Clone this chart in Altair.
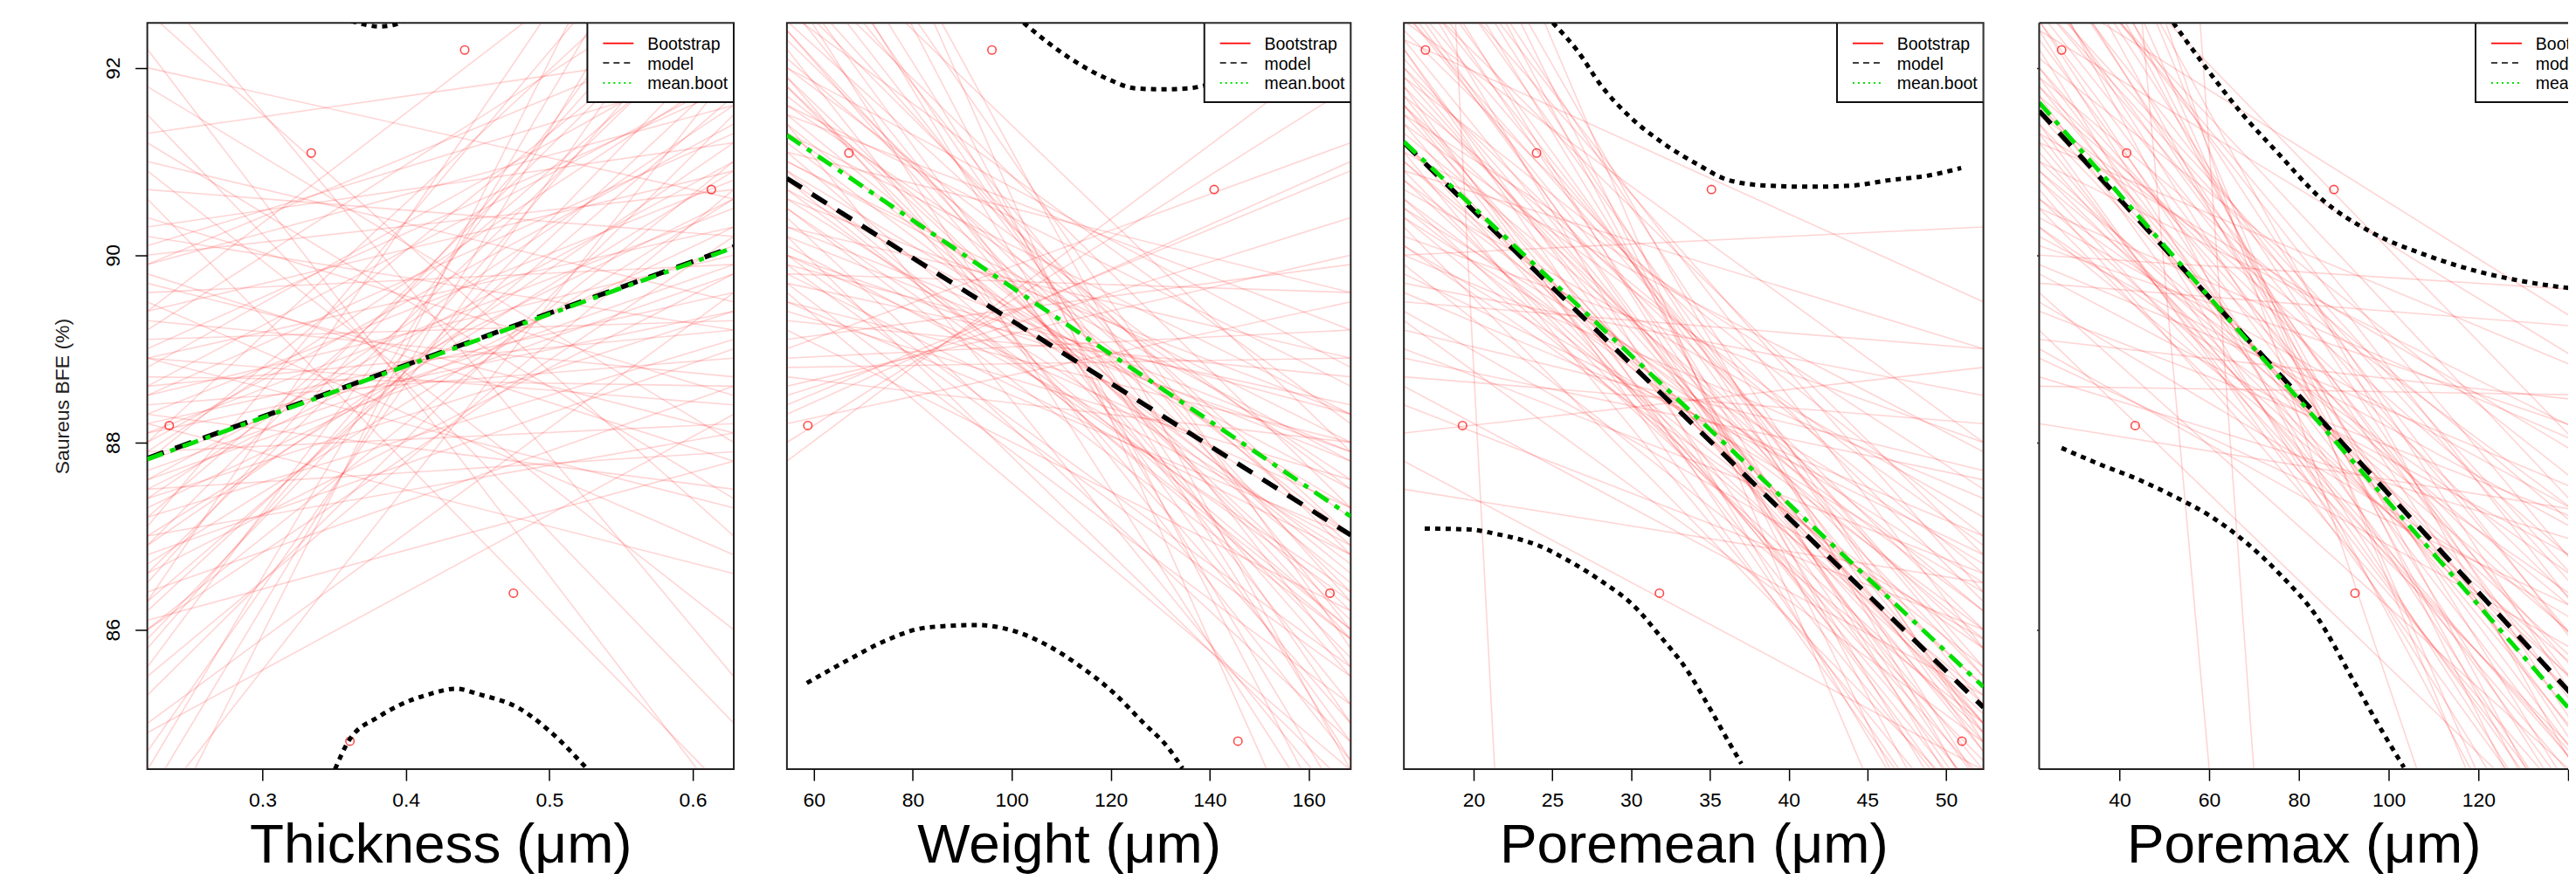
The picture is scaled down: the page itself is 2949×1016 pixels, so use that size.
import altair as alt
import pandas as pd

FONT = "Liberation Sans"

# ---------------- data ----------------
Y_DOMAIN = [84.51, 92.48]
Y_TICKS = [86, 88, 90, 92]
OBS_Y = [88.18, 91.09, 92.19, 84.81, 86.39, 90.70]

# Panel 1 : Thickness
thick_title = "Thickness (\u03bcm)"
thick_dom = [0.2197, 0.6286]
thick_ticks = [0.3, 0.4, 0.5, 0.6]
thick_obs_x = [0.235, 0.334, 0.441, 0.361, 0.475, 0.613]
thick_model = [87.83, 90.09]
thick_mean = [87.82, 90.08]
thick_boot_left = [87.8, 87.5, 88.2, 86.9, 88.6, 87.0, 89.3, 86.2, 88.0, 87.4, 88.9, 86.5, 89.8, 85.6, 90.4,
                   87.2, 88.4, 89.0, 86.0, 90.9, 84.5, 91.5, 88.1, 87.6, 89.6, 86.8, 88.8, 85.3, 92.2, 83.5,
                   87.9, 90.0, 86.4, 89.2, 88.3, 87.1, 91.0, 85.0, 88.6, 86.6, 93.0, 84.0, 89.5, 87.7, 88.0,
                   90.3, 86.1, 91.8, 85.8, 88.5, 87.3, 89.9, 92.0, 84.9, 90.6, 86.3, 88.9, 87.0, 91.3, 86.7,
                   88.3, 87.6, 89.1, 86.3, 87.9, 88.7, 85.9, 89.4, 87.2, 90.2, 86.9, 88.5, 84.7, 89.7, 87.4,
                   91.2, 86.0, 88.1, 90.7, 87.8, 85.5, 89.9, 88.9, 86.6, 92.6, 84.2, 90.1, 87.5, 89.4, 88.2]
thick_boot_right = [90.1, 90.6, 89.6, 91.2, 89.2, 90.9, 88.7, 92.0, 91.4, 89.4, 90.3, 93.5, 87.8, 94.0, 88.5,
                    92.6, 88.9, 91.8, 90.2, 86.0, 95.0, 85.0, 90.5, 91.0, 89.9, 89.0, 92.3, 91.5, 84.0, 96.0,
                    88.2, 90.7, 88.6, 93.2, 87.5, 94.5, 89.5, 89.6, 91.9, 92.7, 85.5, 92.0, 86.8, 89.9, 93.8,
                    91.2, 87.8, 88.0, 93.0, 90.0, 90.3, 92.5, 90.6, 88.3, 84.2, 95.5, 88.4, 88.1, 92.2, 90.6,
                    90.8, 89.8, 89.3, 91.7, 92.0, 88.6, 92.4, 90.9, 89.1, 89.2, 93.1, 91.3, 93.6, 88.1, 91.6,
                    87.4, 91.0, 89.4, 90.2, 92.9, 90.7, 91.6, 87.3, 89.8, 87.0, 94.6, 92.0, 87.9, 94.2, 86.6]
thick_upper_x = [0.362, 0.372, 0.381, 0.392, 0.398]
thick_upper_y = [92.50, 92.46, 92.44, 92.46, 92.50]
thick_lower_x = [0.3506, 0.360, 0.381, 0.395, 0.416, 0.435, 0.451, 0.479, 0.500, 0.526]
thick_lower_y = [84.51, 84.81, 85.07, 85.19, 85.31, 85.37, 85.31, 85.16, 84.92, 84.52]

# Panel 2 : Weight
weight_title = "Weight (\u03bcm)"
weight_dom = [54.57, 168.5]
weight_ticks = [60, 80, 100, 120, 140, 160]
weight_obs_x = [58.8, 67.1, 96.0, 145.7, 164.3, 140.9]
weight_model = [90.82, 87.01]
weight_mean = [91.28, 87.21]
weight_boot_left = [90.8, 91.3, 90.2, 91.8, 89.9, 92.4, 90.5, 91.0, 89.5, 92.0, 93.0, 90.0, 91.6, 89.2, 94.0,
                    90.9, 88.8, 92.8, 91.2, 89.6, 93.5, 90.3, 88.5, 91.9, 90.7, 92.6, 89.0, 95.0, 91.4, 90.1,
                    88.2, 92.2, 89.8, 91.7, 93.8, 90.6, 88.0, 92.9, 89.4, 91.1, 96.0, 90.4, 88.7, 92.3, 91.5,
                    87.8, 90.0, 94.5, 89.7, 91.0, 89.1, 92.7, 90.8, 93.2, 88.4, 91.4,
                    90.9, 91.5, 90.3, 92.1, 89.7, 91.8, 90.6, 93.3, 89.3, 92.5, 90.0, 91.3, 88.9, 94.2, 90.5,
                    92.0, 89.8, 91.6, 93.0, 88.6, 90.2, 92.4, 91.1, 89.5, 95.5, 90.7, 88.3, 91.9, 93.7, 89.9]
weight_boot_right = [87.0, 87.2, 87.8, 86.2, 88.3, 85.5, 86.4, 88.0, 87.0, 87.5, 84.8, 85.6, 88.6, 86.2, 84.0,
                     85.9, 88.9, 86.8, 86.7, 84.5, 86.0, 88.9, 90.4, 85.0, 87.5, 88.2, 91.2, 83.5, 84.0, 86.9,
                     89.5, 84.6, 89.6, 87.0, 85.0, 88.3, 91.8, 83.5, 87.6, 86.0, 82.5, 84.8, 88.0, 86.4, 89.2,
                     92.3, 87.3, 85.8, 85.2, 87.8, 89.9, 85.2, 86.0, 87.3, 90.9, 86.5,
                     87.3, 86.6, 87.9, 86.9, 88.4, 85.7, 86.8, 85.6, 88.7, 87.0, 87.9, 88.3, 89.2, 84.6, 85.9,
                     88.8, 86.8, 87.6, 86.3, 90.0, 84.3, 85.9, 89.6, 88.0, 84.5, 86.3, 91.0, 86.1, 87.9, 85.5]
weight_upper_x = [102.4, 107.3, 112.1, 119.4, 125.1, 130.4, 135.7, 139.7, 145.0]
weight_upper_y = [92.48, 92.27, 92.09, 91.88, 91.78, 91.77, 91.78, 91.82, 91.90]
weight_lower_x = [58.6, 66.7, 74.8, 81.3, 87.0, 93.0, 100.8, 107.3, 113.8, 120.3, 126.7, 131.6, 134.5]
weight_lower_y = [85.43, 85.67, 85.89, 86.01, 86.04, 86.05, 85.98, 85.83, 85.61, 85.34, 85.00, 84.74, 84.52]

# Panel 3 : Poremean
pmean_title = "Poremean (\u03bcm)"
pmean_dom = [15.58, 52.36]
pmean_ticks = [20, 25, 30, 35, 40, 45, 50]
pmean_obs_x = [19.3, 24.0, 16.95, 51.0, 31.8, 35.1]
pmean_model = [91.20, 85.17]
pmean_mean = [91.21, 85.39]
pmean_boot_left = [91.2, 91.2, 92.0, 90.6, 92.8, 91.6, 90.1, 93.5, 91.9, 90.9, 92.4, 89.6, 94.0, 91.0, 92.2,
                   90.4, 93.0, 89.2, 91.4, 92.6, 90.7, 95.0, 91.7, 89.9, 92.1, 88.7, 93.3, 90.3, 91.3, 94.5,
                   92.9, 88.4, 91.1, 89.5, 90.0, 88.1, 92.5, 93.8, 87.8, 91.5, 96.0, 90.5, 89.0, 92.3, 91.8,
                   90.2, 93.1, 87.5, 91.9, 89.3, 92.7, 90.8, 94.2, 91.6, 103.0,
                   91.0, 91.5, 90.8, 92.3, 90.5, 93.2, 91.8, 89.8, 92.6, 91.2, 90.0, 93.9, 91.4, 89.4, 92.0,
                   90.6, 94.8, 91.7, 88.9, 92.8, 90.4, 93.6, 91.1, 89.7, 92.2, 90.9, 88.6, 93.4, 91.6, 90.1]
pmean_boot_right = [85.2, 85.4, 84.5, 86.0, 84.0, 85.8, 86.4, 83.5, 85.0, 84.6, 86.3, 87.0, 84.3, 85.9, 83.8,
                    85.3, 85.2, 87.7, 84.2, 85.6, 87.2, 82.5, 86.6, 85.0, 84.9, 88.2, 84.7, 84.0, 86.2, 83.0,
                    86.8, 86.0, 83.6, 89.0, 90.3, 88.8, 88.0, 85.8, 84.5, 87.5, 81.5, 85.6, 86.6, 89.5, 83.2,
                    88.0, 82.8, 86.5, 87.0, 84.8, 84.3, 85.1, 84.8, 84.8, -15.0,
                    85.4, 85.0, 86.2, 84.7, 86.7, 84.1, 85.5, 86.8, 85.0, 84.4, 87.4, 83.8, 86.9, 85.9, 86.0,
                    84.9, 84.0, 84.0, 87.6, 85.5, 86.5, 84.9, 87.9, 88.5, 83.2, 89.0, 85.3, 86.4, 83.8, 85.8]
pmean_upper_x = [25.03, 26.6, 28.1, 29.9, 31.9, 34.2, 36.2, 38.8, 41.3, 43.9, 46.4, 48.9, 50.95]
pmean_upper_y = [92.48, 92.18, 91.81, 91.48, 91.21, 90.97, 90.80, 90.74, 90.73, 90.74, 90.80, 90.85, 90.93]
pmean_lower_x = [16.9, 19.75, 21.5, 24.1, 26.1, 28.1, 30.2, 31.9, 33.5, 35.0, 36.2, 37.0]
pmean_lower_y = [87.08, 87.07, 87.02, 86.90, 86.73, 86.52, 86.25, 85.92, 85.58, 85.16, 84.80, 84.57]

# Panel 4 : Poremax (cut off by the right edge of the picture)
pmax_title = "Poremax (\u03bcm)"
pmax_full = [22.1, 152.0]      # full x range of the original panel
pmax_dom = [22.1, 140.0]       # part that is visible
pmax_ticks = [40, 60, 80, 100, 120, 140]
pmax_obs_x = [43.5, 41.6, 27.1, 147.0, 92.5, 87.8]
pmax_model = [91.54, 84.72]
pmax_mean = [91.63, 84.51]
pmax_boot_left = [91.5, 91.6, 92.3, 90.8, 93.0, 92.0, 90.3, 93.8, 91.2, 92.6, 89.8, 94.5, 91.9, 90.5, 93.3,
                  89.4, 92.8, 91.0, 95.0, 90.1, 92.1, 89.0, 93.6, 91.4, 88.6, 92.4, 90.7, 94.0, 91.7, 89.6,
                  93.1, 92.9, 90.0, 88.2, 91.3, 96.5, 92.2, 90.9, 89.2, 93.4, 91.8, 90.4, 94.8, 92.5, 88.9,
                  91.1, 93.9, 90.6, 92.7, 91.5, 104.7, 116.4,
                  91.4, 91.8, 90.9, 92.5, 90.6, 93.4, 91.6, 89.9, 92.9, 91.3, 90.2, 94.2, 91.9, 89.5, 92.7,
                  90.8, 95.5, 92.0, 89.1, 93.2, 90.5, 93.7, 91.2, 89.7, 92.4, 91.0, 88.7, 93.5, 91.7, 90.3]
pmax_boot_right = [84.7, 84.5, 84.0, 85.5, 83.2, 85.0, 86.0, 82.5, 83.8, 84.8, 86.5, 82.0, 83.5, 84.2, 84.0,
                   87.0, 86.0, 85.2, 81.0, 88.0, 87.2, 85.5, 85.6, 82.8, 88.5, 88.6, 83.5, 84.5, 86.3, 84.0,
                   81.5, 89.0, 89.6, 87.2, 87.6, 78.0, 82.2, 84.8, 83.2, 86.8, 85.8, 87.0, 83.6, 83.0, 86.0,
                   84.0, 87.5, 85.0, 85.3, 86.9, 35.5, 29.8,
                   84.9, 84.3, 85.8, 84.2, 86.2, 83.4, 85.4, 87.3, 84.5, 83.2, 86.8, 82.6, 86.7, 85.8, 85.9,
                   84.1, 80.5, 83.9, 88.4, 85.2, 87.8, 84.2, 88.6, 89.2, 82.6, 87.9, 86.8, 86.1, 83.0, 85.2]
pmax_upper_x = [52.0, 59.3, 67.3, 75.3, 85.0, 96.3, 108.3, 120.3, 132.4, 141.9, 147.0]
pmax_upper_y = [92.48, 92.00, 91.51, 91.09, 90.60, 90.24, 90.00, 89.82, 89.70, 89.64, 89.62]
pmax_lower_x = [27.1, 35.9, 43.9, 51.9, 60.0, 68.0, 76.0, 84.1, 92.1, 98.5, 103.4]
pmax_lower_y = [87.94, 87.76, 87.61, 87.43, 87.22, 86.94, 86.58, 86.13, 85.46, 84.92, 84.53]

LEGEND_LABELS = ["Bootstrap", "model", "mean.boot"]

# ---------------- styling ----------------
PLOT_H = 857
GREEN = "#00E000"
BORDER = "#222222"
TITLE_Y = 107          # baseline of the big x titles, below the plot


def panel(xtitle, xdom, xticks, xfmt, obs_x, model, meanb, bl, br,
          ux, uy, lx, ly, width, yaxis_mode, line_x=None, cut=False):
    if line_x is None:
        line_x = xdom
    xscale = alt.Scale(domain=xdom, nice=False, zero=False)
    yscale = alt.Scale(domain=Y_DOMAIN, nice=False, zero=False)
    xaxis_kw = dict(values=xticks, format=xfmt, title=xtitle, grid=False, domain=False,
                    labelFont=FONT, labelFontSize=23, labelColor="black", labelPadding=11,
                    tickSize=13, tickColor="black", tickWidth=1.5,
                    titleFont=FONT, titleFontSize=64, titleFontWeight="normal", titleColor="black",
                    titleBaseline="alphabetic", titleAlign="center", titleX=width / 2, titleY=TITLE_Y)
    if cut:
        # the last tick label is cut away by the picture edge
        xaxis_kw["labelExpr"] = "datum.value >= %s ? '' : datum.label" % xticks[-1]
    xaxis = alt.Axis(**xaxis_kw)
    if yaxis_mode == "full":
        yaxis = alt.Axis(values=Y_TICKS, title="Saureus BFE (%)", grid=False, domain=False,
                         labelFont=FONT, labelFontSize=23, labelColor="black", labelAngle=270,
                         labelAlign="center", labelBaseline="bottom", labelPadding=13,
                         tickSize=14, tickColor="black", tickWidth=1.5,
                         titleFont=FONT, titleFontSize=23, titleFontWeight="normal",
                         titleColor="#222222", titleAngle=270, titleBaseline="middle",
                         titleAlign="center", titleX=-97, titleY=PLOT_H / 2)
    elif yaxis_mode == "stub":
        yaxis = alt.Axis(values=Y_TICKS, title=None, grid=False, domain=False, labels=False,
                         tickSize=3, tickColor="#333333", tickWidth=1.5)
    else:
        yaxis = None

    X = alt.X("x:Q", scale=xscale, axis=xaxis)
    Y = alt.Y("y:Q", scale=yscale, axis=yaxis)

    # bootstrap lines
    rows = []
    for i, (a, b) in enumerate(zip(bl, br)):
        rows.append({"id": i, "x": line_x[0], "y": a})
        rows.append({"id": i, "x": line_x[1], "y": b})
    boot = alt.Chart(pd.DataFrame(rows)).mark_line(
        clip=True, color="red", opacity=0.17, strokeWidth=1.6
    ).encode(x=X, y=Y, detail="id:N")

    pts = alt.Chart(pd.DataFrame({"x": obs_x, "y": OBS_Y})).mark_point(
        shape="circle", filled=False, color="red", size=90, strokeWidth=1.6, clip=True
    ).encode(x=X, y=Y)

    crv = pd.DataFrame(
        [{"cid": "u", "x": a, "y": b} for a, b in zip(ux, uy)]
        + [{"cid": "l", "x": a, "y": b} for a, b in zip(lx, ly)]
    )
    curves = alt.Chart(crv).mark_line(
        clip=True, color="black", strokeWidth=5, strokeDash=[6, 6], strokeCap="butt",
        interpolate="monotone"
    ).encode(x=X, y=Y, detail="cid:N")

    mdl = alt.Chart(pd.DataFrame({"x": line_x, "y": model})).mark_line(
        clip=True, color="black", strokeWidth=5.5, strokeDash=[20, 14]
    ).encode(x=X, y=Y)
    mbt = alt.Chart(pd.DataFrame({"x": line_x, "y": meanb})).mark_line(
        clip=True, color=GREEN, strokeWidth=5, strokeDash=[19, 9, 6, 9]
    ).encode(x=X, y=Y)

    # legend box (top-right corner of the full original panel)
    one = pd.DataFrame({"k": [0]})
    full_w = width
    if cut:
        full_w = width * (line_x[1] - line_x[0]) / (xdom[1] - xdom[0])
    lx0 = full_w - 168
    box = alt.Chart(one).mark_rect(fill="white", stroke="#111111", strokeWidth=2, clip=True).encode(
        x=alt.value(lx0), x2=alt.value(full_w), y=alt.value(0), y2=alt.value(91))
    rows_y = [23.5, 46, 69]
    l1 = alt.Chart(one).mark_rule(color="red", strokeWidth=1.6, clip=True).encode(
        x=alt.value(lx0 + 18), x2=alt.value(lx0 + 53), y=alt.value(rows_y[0]))
    l2 = alt.Chart(one).mark_rule(color="black", strokeWidth=1.6, strokeDash=[7, 5], clip=True).encode(
        x=alt.value(lx0 + 18), x2=alt.value(lx0 + 53), y=alt.value(rows_y[1]))
    l3 = alt.Chart(one).mark_rule(color=GREEN, strokeWidth=1.8, strokeDash=[2, 4], clip=True).encode(
        x=alt.value(lx0 + 18), x2=alt.value(lx0 + 53), y=alt.value(rows_y[2]))
    texts = []
    for lab, ry in zip(LEGEND_LABELS, rows_y):
        texts.append(alt.Chart(one).mark_text(
            text=lab, font=FONT, fontSize=19.5, color="black", align="left", baseline="middle",
            clip=True
        ).encode(x=alt.value(lx0 + 69), y=alt.value(ry + 1.5)))

    layers = [boot, pts, mdl, mbt, curves, box, l1, l2, l3] + texts
    if cut:
        # frame without right side (the panel continues past the picture edge)
        fr_top = alt.Chart(one).mark_rule(color=BORDER, strokeWidth=2).encode(
            x=alt.value(0), x2=alt.value(width), y=alt.value(0))
        fr_bot = alt.Chart(one).mark_rule(color=BORDER, strokeWidth=2).encode(
            x=alt.value(0), x2=alt.value(width), y=alt.value(PLOT_H))
        fr_left = alt.Chart(one).mark_rule(color=BORDER, strokeWidth=2).encode(
            x=alt.value(0), y=alt.value(0), y2=alt.value(PLOT_H))
        layers += [fr_top, fr_bot, fr_left]
        return alt.layer(*layers).properties(
            width=width, height=PLOT_H,
            view=alt.ViewBackground(stroke="transparent", strokeWidth=0))
    return alt.layer(*layers).properties(width=width, height=PLOT_H)


p1 = panel(thick_title, thick_dom, thick_ticks, ".1f", thick_obs_x, thick_model, thick_mean,
           thick_boot_left, thick_boot_right, thick_upper_x, thick_upper_y,
           thick_lower_x, thick_lower_y, 673, "full")
p2 = panel(weight_title, weight_dom, weight_ticks, "d", weight_obs_x, weight_model, weight_mean,
           weight_boot_left, weight_boot_right, weight_upper_x, weight_upper_y,
           weight_lower_x, weight_lower_y, 647, "none")
p3 = panel(pmean_title, pmean_dom, pmean_ticks, "d", pmean_obs_x, pmean_model, pmean_mean,
           pmean_boot_left, pmean_boot_right, pmean_upper_x, pmean_upper_y,
           pmean_lower_x, pmean_lower_y, 665, "none")
p4 = panel(pmax_title, pmax_dom, pmax_ticks, "d", pmax_obs_x, pmax_model, pmax_mean,
           pmax_boot_left, pmax_boot_right, pmax_upper_x, pmax_upper_y,
           pmax_lower_x, pmax_lower_y, 607, "stub", line_x=pmax_full, cut=True)

chart = alt.hconcat(p1, p2, p3, p4, spacing=59).properties(
    padding={"left": 52, "top": 16, "right": 0, "bottom": 0},
    background="white",
).configure(
    font=FONT,
    view=alt.ViewConfig(stroke=BORDER, strokeWidth=2),
)

chart.save("out.html", embed_options={"renderer": "svg", "actions": False})
